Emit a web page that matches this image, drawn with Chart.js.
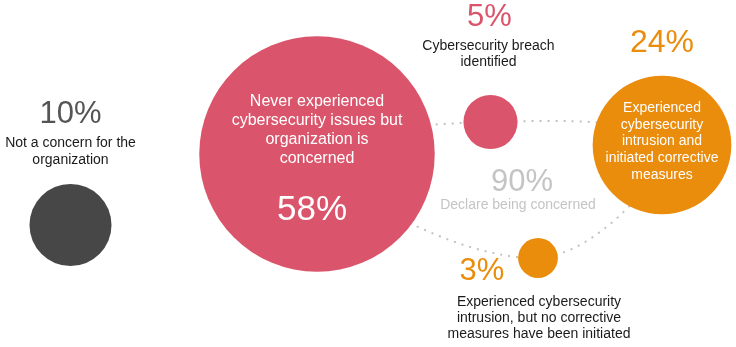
<!DOCTYPE html>
<html>
<head>
<meta charset="utf-8">
<script src="https://cdn.jsdelivr.net/npm/chart.js@4.4.1/dist/chart.umd.min.js"></script>
<style>
  body { margin: 0; background: #fff; }
  #wrap { width: 736px; height: 347px; }
</style>
</head>
<body>
<div id="wrap"><canvas id="bubbles" width="736" height="347"></canvas></div>
<script>
// share of organisations per answer, in percent
const shares = [10, 58, 5, 24, 3];
const captions = [
  ['Not a concern for the', 'organization'],
  ['Never experienced', 'cybersecurity issues but', 'organization is', 'concerned'],
  ['Cybersecurity breach', 'identified'],
  ['Experienced', 'cybersecurity', 'intrusion and', 'initiated corrective', 'measures'],
  ['Experienced cybersecurity', 'intrusion, but no corrective', 'measures have been initiated']
];
const concernedShare = 90;
const concernedLabel = 'Declare being concerned';

// layout: where each bubble sits on the (pixel-sized) canvas grid
const spots = [[70.5, 225], [317, 154], [490.5, 122], [662, 145], [538, 258]];
const colors = ['#474747', '#da546b', '#da546b', '#ea8c0c', '#ea8c0c'];
// label placement relative to the bubble centre
const labelStyle = [
  { pct: [0, -111], pctSize: 31, pctColor: '#555555', cap: [0, -82], lh: 17, capSize: 14, capColor: '#1a1a1a' },
  { pct: [-5, 56], pctSize: 35, pctColor: '#ffffff', cap: [0, -52], lh: 19, capSize: 16, capColor: '#ffffff' },
  { pct: [-1, -105], pctSize: 31, pctColor: '#da546b', cap: [-2, -76], lh: 16, capSize: 14, capColor: '#1a1a1a' },
  { pct: [0, -102], pctSize: 32, pctColor: '#ea8c0c', cap: [0, -37], lh: 16.8, capSize: 14, capColor: '#ffffff' },
  { pct: [-56, 13], pctSize: 31, pctColor: '#ea8c0c', cap: [1, 44], lh: 16, capSize: 14, capColor: '#1a1a1a' }
];
// loop of the dotted ring, padded at both ends so the spline closes smoothly
const ring = [4, 1, 2, 3, 4, 1, 2];

const FONT = '"Liberation Sans", Arial, Helvetica, sans-serif';
const bubbleRadius = v => 10.3 * Math.pow(v, 0.6);

const labels = {
  id: 'labels',
  afterDatasetsDraw(chart) {
    const ctx = chart.ctx;
    const meta = chart.getDatasetMeta(0);
    ctx.save();
    ctx.textAlign = 'center';
    ctx.textBaseline = 'middle';
    meta.data.forEach((el, i) => {
      const s = labelStyle[i];
      ctx.fillStyle = s.pctColor;
      ctx.font = s.pctSize + 'px ' + FONT;
      ctx.fillText(shares[i] + '%', el.x + s.pct[0], el.y + s.pct[1]);
      ctx.fillStyle = s.capColor;
      ctx.font = s.capSize + 'px ' + FONT;
      captions[i].forEach((line, j) => {
        ctx.fillText(line, el.x + s.cap[0], el.y + s.cap[1] + j * s.lh);
      });
    });
    const cx = chart.scales.x.getPixelForValue(520);
    const cy = chart.scales.y.getPixelForValue(182);
    ctx.fillStyle = '#c4c4c4';
    ctx.font = '31px ' + FONT;
    ctx.fillText(concernedShare + '%', cx + 2, cy);
    ctx.font = '14px ' + FONT;
    ctx.fillText(concernedLabel, cx - 2, cy + 23);
    ctx.restore();
  }
};

new Chart(document.getElementById('bubbles'), {
  type: 'bubble',
  data: {
    datasets: [
      {
        order: 1,
        clip: false,
        data: shares.map((v, i) => ({ x: spots[i][0], y: spots[i][1], r: bubbleRadius(v) })),
        backgroundColor: colors,
        borderWidth: 0,
        hoverBorderWidth: 0,
        hoverRadius: 0
      },
      {
        type: 'line',
        order: 2,
        clip: false,
        data: ring.map(i => ({ x: spots[i][0], y: spots[i][1] })),
        borderColor: '#c2c2c2',
        borderWidth: 2,
        borderDash: [2, 6],
        tension: 0.4,
        pointRadius: 0,
        fill: false,
        segment: {
          borderColor: c => (c.p0DataIndex === 0 || c.p1DataIndex === ring.length - 1) ? 'rgba(0,0,0,0)' : undefined
        }
      }
    ]
  },
  options: {
    responsive: false,
    animation: false,
    layout: { padding: 0, autoPadding: false },
    plugins: { legend: { display: false }, tooltip: { enabled: false } },
    scales: {
      x: { type: 'linear', min: 0, max: 736, display: false },
      y: { type: 'linear', min: 0, max: 347, reverse: true, display: false }
    }
  },
  plugins: [labels]
});
</script>
</body>
</html>
